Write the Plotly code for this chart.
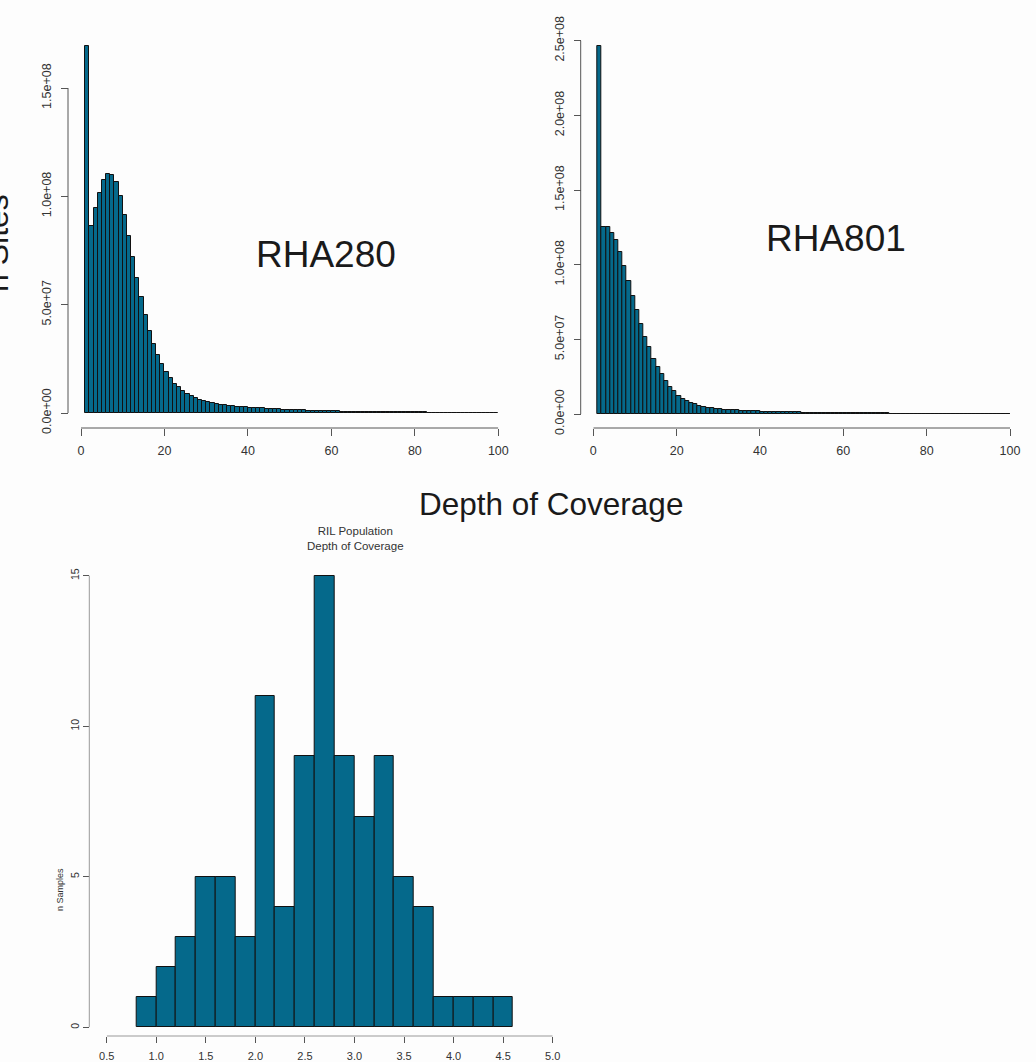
import plotly.graph_objects as go

W, H = 1036, 1062

# ---------------- data ----------------
depth_bin_start = list(range(1, 100))  # bins [k, k+1)

rha280_sites = [
    1.695e8, 8.65e7, 9.45e7, 1.015e8, 1.077e8, 1.105e8, 1.10e8, 1.065e8, 1.0e8, 9.15e7,
    8.18e7, 7.2e7, 6.25e7, 5.35e7, 4.52e7, 3.8e7, 3.2e7, 2.69e7, 2.26e7, 1.91e7,
    1.62e7, 1.35e7, 1.18e7, 1.0e7, 8.8e6, 7.7e6, 6.8e6, 6.2e6, 5.5e6, 5.0e6,
    4.6e6, 4.2e6, 3.9e6, 3.6e6, 3.4e6, 3.2e6, 3.0e6, 2.8e6, 2.65e6, 2.5e6,
    2.35e6, 2.2e6, 2.1e6, 1.95e6, 1.85e6, 1.75e6, 1.65e6, 1.55e6, 1.47e6, 1.39e6,
    1.31e6, 1.24e6, 1.17e6, 1.1e6, 1.04e6, 9.8e5, 9.2e5, 8.7e5, 8.2e5, 7.7e5,
    7.3e5, 6.9e5, 6.5e5, 6.1e5, 5.8e5, 5.5e5, 5.2e5, 4.9e5, 4.6e5, 4.4e5,
    4.15e5, 3.95e5, 3.75e5, 3.55e5, 3.35e5, 3.2e5, 3.05e5, 2.9e5, 2.75e5, 2.6e5,
    2.5e5, 2.4e5, 2.3e5, 2.2e5, 2.1e5, 2.0e5, 1.9e5, 1.85e5, 1.8e5, 1.7e5,
    1.65e5, 1.6e5, 1.55e5, 1.5e5, 1.45e5, 1.4e5, 1.35e5, 1.3e5, 1.25e5,
]

rha801_sites = [
    2.463e8, 1.254e8, 1.25e8, 1.212e8, 1.165e8, 1.083e8, 9.93e7, 8.93e7, 7.92e7, 6.96e7,
    6.03e7, 5.18e7, 4.46e7, 3.7e7, 3.13e7, 2.68e7, 2.23e7, 1.83e7, 1.52e7, 1.23e7,
    1.0e7, 8.6e6, 7.4e6, 6.4e6, 5.6e6, 4.9e6, 4.3e6, 3.85e6, 3.45e6, 3.1e6,
    2.85e6, 2.65e6, 2.5e6, 2.35e6, 2.2e6, 2.08e6, 1.96e6, 1.85e6, 1.75e6, 1.66e6,
    1.57e6, 1.49e6, 1.41e6, 1.34e6, 1.27e6, 1.2e6, 1.14e6, 1.08e6, 1.02e6, 9.7e5,
    9.2e5, 8.7e5, 8.3e5, 7.9e5, 7.5e5, 7.1e5, 6.8e5, 6.4e5, 6.1e5, 5.8e5,
    5.5e5, 5.25e5, 5.0e5, 4.75e5, 4.5e5, 4.3e5, 4.1e5, 3.9e5, 3.7e5, 3.5e5,
    3.35e5, 3.2e5, 3.05e5, 2.9e5, 2.75e5, 2.6e5, 2.5e5, 2.4e5, 2.3e5, 2.2e5,
    2.1e5, 2.0e5, 1.92e5, 1.84e5, 1.76e5, 1.68e5, 1.6e5, 1.53e5, 1.46e5, 1.4e5,
    1.34e5, 1.28e5, 1.22e5, 1.17e5, 1.12e5, 1.07e5, 1.02e5, 9.8e4, 9.4e4,
]

ril_bin_start = [0.8, 1.0, 1.2, 1.4, 1.6, 1.8, 2.0, 2.2, 2.4, 2.6,
                 2.8, 3.0, 3.2, 3.4, 3.6, 3.8, 4.0, 4.2, 4.4]
ril_samples = [1, 2, 3, 5, 5, 3, 11, 4, 9, 15, 9, 7, 9, 5, 4, 1, 1, 1, 1]
ril_bin_width = 0.2

top_xticks = [0, 20, 40, 60, 80, 100]
rha280_yticks = [0, 5e7, 1e8, 1.5e8]
rha280_yticklabels = ["0.0e+00", "5.0e+07", "1.0e+08", "1.5e+08"]
rha801_yticks = [0, 5e7, 1e8, 1.5e8, 2e8, 2.5e8]
rha801_yticklabels = ["0.0e+00", "5.0e+07", "1.0e+08", "1.5e+08", "2.0e+08", "2.5e+08"]
ril_xticks = [0.5, 1.0, 1.5, 2.0, 2.5, 3.0, 3.5, 4.0, 4.5, 5.0]
ril_xticklabels = ["0.5", "1.0", "1.5", "2.0", "2.5", "3.0", "3.5", "4.0", "4.5", "5.0"]
ril_yticks = [0, 5, 10, 15]

# ---------------- styling helpers ----------------
BAR = "#05698b"
FONT = "Liberation Sans"
TICKC = "#333333"
AXC = "#555555"


def px(xp):
    return xp / W


def py(yp):
    return 1 - yp / H


def axis_range(p0, p_ref, v_ref, p_end):
    return (p0 - p_end) / (p0 - p_ref) * v_ref


fig = go.Figure()

fig.add_trace(go.Bar(x=[b + 0.5 for b in depth_bin_start], y=rha280_sites, width=1,
                     marker=dict(color=BAR, line=dict(color="#111111", width=1)),
                     xaxis="x", yaxis="y", showlegend=False))
fig.add_trace(go.Bar(x=[b + 0.5 for b in depth_bin_start], y=rha801_sites, width=1,
                     marker=dict(color=BAR, line=dict(color="#111111", width=1)),
                     xaxis="x2", yaxis="y2", showlegend=False))
fig.add_trace(go.Bar(x=[b + ril_bin_width / 2 for b in ril_bin_start], y=ril_samples,
                     width=ril_bin_width,
                     marker=dict(color=BAR, line=dict(color="#111111", width=1)),
                     xaxis="x3", yaxis="y3", showlegend=False))

common_x = dict(showgrid=False, zeroline=False, showline=False, ticks="outside",
                tickcolor=AXC, tickwidth=1, anchor="free", fixedrange=True,
                automargin=False)
common_y = dict(showgrid=False, zeroline=False, showline=False, ticks="outside",
                tickcolor=AXC, tickwidth=1, anchor="free", tickangle=-90, fixedrange=True,
                automargin=False)

# Panel 1 (RHA280): x 0->81px, 100->498.3px ; y 0->413px, 1.5e8->88px
p1_top = 38
fig.update_layout(
    xaxis=dict(common_x, domain=[px(81), px(498.3)], range=[0, 100], position=py(428),
               tickvals=top_xticks, ticklen=7, ticklabelstandoff=4,
               tickfont=dict(family=FONT, size=12.5, color=TICKC)),
    yaxis=dict(common_y, domain=[py(413), py(p1_top)],
               range=[0, axis_range(413, 88, 1.5e8, p1_top)], position=px(68),
               tickvals=rha280_yticks, ticktext=rha280_yticklabels, ticklen=7,
               ticklabelstandoff=5,
               tickfont=dict(family=FONT, size=12.5, color=TICKC)),
)

# Panel 2 (RHA801): x 0->593.3px, 100->1010px ; y 0->414px, 2.5e8->40.7px
p2_top = 36
fig.update_layout(
    xaxis2=dict(common_x, domain=[px(593.3), px(1010)], range=[0, 100], position=py(428),
                tickvals=top_xticks, ticklen=7, ticklabelstandoff=4,
                tickfont=dict(family=FONT, size=12.5, color=TICKC)),
    yaxis2=dict(common_y, domain=[py(414), py(p2_top)],
                range=[0, axis_range(414, 40.7, 2.5e8, p2_top)], position=px(580.7),
                tickvals=rha801_yticks, ticktext=rha801_yticklabels, ticklen=7,
                ticklabelstandoff=5,
                tickfont=dict(family=FONT, size=12.5, color=TICKC)),
)

# Panel 3 (RIL): x 0.5->106.7px, 5.0->552.7px ; y 0->1027.3px, 15->575.7px
p3_top = 568
fig.update_layout(
    xaxis3=dict(common_x, domain=[px(106.7), px(552.7)], range=[0.5, 5.0], position=py(1036),
                tickvals=ril_xticks, ticktext=ril_xticklabels, ticklen=6,
                ticklabelstandoff=4,
                tickfont=dict(family=FONT, size=11, color=TICKC)),
    yaxis3=dict(common_y, domain=[py(1027.3), py(p3_top)],
                range=[0, axis_range(1027.3, 575.7, 15, p3_top)], position=px(89.3),
                tickvals=ril_yticks, ticklen=6,
                tickfont=dict(family=FONT, size=10.5, color=TICKC)),
)

shapes = [
    dict(type="line", xref="paper", yref="y", x0=px(68), x1=px(68), y0=0, y1=1.5e8,
         line=dict(color=AXC, width=1)),
    dict(type="line", xref="x", yref="paper", x0=0, x1=100, y0=py(428), y1=py(428),
         line=dict(color=AXC, width=1)),
    dict(type="line", xref="paper", yref="y2", x0=px(580.7), x1=px(580.7), y0=0, y1=2.5e8,
         line=dict(color=AXC, width=1)),
    dict(type="line", xref="x2", yref="paper", x0=0, x1=100, y0=py(428), y1=py(428),
         line=dict(color=AXC, width=1)),
    dict(type="line", xref="paper", yref="y3", x0=px(89.3), x1=px(89.3), y0=0, y1=15,
         line=dict(color="#999999", width=1)),
    dict(type="line", xref="x3", yref="paper", x0=0.5, x1=5.0, y0=py(1036), y1=py(1036),
         line=dict(color="#999999", width=1)),
]

annotations = [
    dict(text="RHA280", x=px(326), y=py(255), xref="paper", yref="paper",
         showarrow=False, font=dict(family=FONT, size=37, color="#1a1a1a"),
         xanchor="center", yanchor="middle"),
    dict(text="RHA801", x=px(836), y=py(238), xref="paper", yref="paper",
         showarrow=False, font=dict(family=FONT, size=37, color="#1a1a1a"),
         xanchor="center", yanchor="middle"),
    dict(text="Depth of Coverage", x=px(551), y=py(504), xref="paper", yref="paper",
         showarrow=False, font=dict(family=FONT, size=31.5, color="#1a1a1a"),
         xanchor="center", yanchor="middle"),
    dict(text="n Sites", x=px(-3), y=py(243), xref="paper", yref="paper",
         showarrow=False, textangle=-90, font=dict(family=FONT, size=32, color="#1a1a1a"),
         xanchor="center", yanchor="middle"),
    dict(text="RIL Population<br>Depth of Coverage", x=px(355), y=py(538),
         xref="paper", yref="paper", showarrow=False,
         font=dict(family=FONT, size=11.5, color="#333333"),
         xanchor="center", yanchor="middle"),
    dict(text="n Samples", x=px(60), y=py(890), xref="paper", yref="paper",
         showarrow=False, textangle=-90, font=dict(family=FONT, size=9, color="#333333"),
         xanchor="center", yanchor="middle"),
]

fig.update_layout(
    template="none",
    autosize=True,
    margin=dict(l=0, r=0, t=0, b=0, pad=0),
    paper_bgcolor="#fdfdfd", plot_bgcolor="rgba(0,0,0,0)",
    bargap=0, barmode="overlay",
    shapes=shapes, annotations=annotations,
    font=dict(family=FONT, color=TICKC),
)

post = """
var gd = document.getElementById('{plot_id}');
document.documentElement.style.margin = '0px';
document.body.style.margin = '0px';
document.documentElement.style.overflow = 'hidden';
document.body.style.overflow = 'hidden';
Plotly.Plots.resize(gd);
"""

fig.write_html("out.html", config={"displayModeBar": False},
               default_width="100vw", default_height="100vh",
               post_script=post)
